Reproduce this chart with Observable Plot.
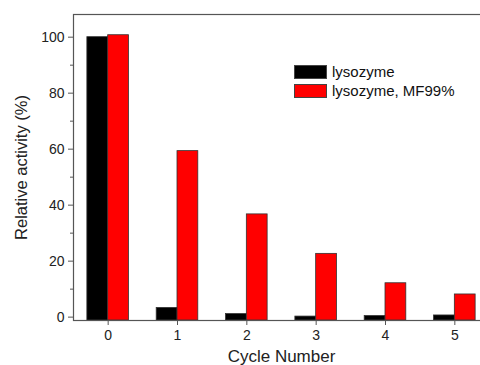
<!DOCTYPE html>
<html>
<head>
<meta charset="utf-8">
<script src="https://cdn.jsdelivr.net/npm/d3@7"></script>
<script src="https://cdn.jsdelivr.net/npm/@observablehq/plot@0.6"></script>
<style>
  html, body { margin: 0; padding: 0; background: #fff; overflow: hidden; }
  #wrap { position: relative; width: 480px; height: 365px; overflow: hidden; }
  #chart svg { max-width: none !important; display: block; }
  #legend { position: absolute; left: 294px; top: 62px; font-family: "Liberation Sans", Arial, sans-serif; font-size: 15px; color: #111; }
  .row { display: flex; align-items: center; height: 19px; }
  .sw { width: 31px; height: 12px; border: 1px solid #444; margin-right: 5px; }
</style>
</head>
<body>
<div id="wrap">
  <div id="chart"></div>
  <div id="legend"></div>
</div>
<script>
const cycles = [0, 1, 2, 3, 4, 5];
const seriesNames = ["lysozyme", "lysozyme, MF99%"];
const seriesColors = ["#000000", "#ff0000"];
const lysozyme = [100, 3.3, 1.1, 0.2, 0.4, 0.6];
const lysozymeMF99 = [100.7, 59.3, 36.7, 22.6, 12.1, 8.1];
const yTicks = [0, 20, 40, 60, 80, 100];
const yMinorTicks = [10, 30, 50, 70, 90];
const yDomain = [-1.2, 108.1];
const xDomain = [-0.5, 5.5];
const barWidth = 0.3;

const data = [];
cycles.forEach((c, i) => {
  data.push({cycle: c, series: seriesNames[0], value: lysozyme[i], x1: c - barWidth, x2: c});
  data.push({cycle: c, series: seriesNames[1], value: lysozymeMF99[i], x1: c, x2: c + barWidth});
});

const chart = Plot.plot({
  width: 489,
  height: 365,
  marginLeft: 73,
  marginRight: 0,
  marginTop: 14,
  marginBottom: 45,
  style: {fontFamily: "'Liberation Sans', Arial, sans-serif", fontSize: "14px", color: "#222", background: "white", overflow: "visible"},
  x: {domain: xDomain},
  y: {domain: yDomain},
  color: {domain: seriesNames, range: seriesColors},
  marks: [
    Plot.rectY(data, {x1: "x1", x2: "x2", y1: yDomain[0], y2: "value", fill: "series", stroke: "#333", strokeWidth: 0.8}),
    Plot.frame({stroke: "#555", strokeWidth: 1.2}),
    Plot.axisY({ticks: yTicks, tickSize: 5, tickPadding: 4, stroke: "#555", fontSize: 14, label: "Relative activity (%)", labelAnchor: "center", labelArrow: "none", labelOffset: 58}),
    Plot.axisY({ticks: yMinorTicks, tickSize: 3, text: null, stroke: "#555", label: null}),
    Plot.axisX({ticks: cycles, tickSize: 5, tickPadding: 5, stroke: "#555", fontSize: 14, tickFormat: d => String(d), label: "Cycle Number", labelAnchor: "center", labelArrow: "none", labelOffset: 41})
  ]
});
chart.querySelectorAll('[aria-label="y-axis label"] text').forEach(t => t.setAttribute("font-size", "16.5"));
chart.querySelectorAll('[aria-label="x-axis label"] text').forEach(t => t.setAttribute("font-size", "17"));
document.getElementById("chart").appendChild(chart);

const legend = document.getElementById("legend");
seriesNames.forEach((name, i) => {
  const row = document.createElement("div");
  row.className = "row";
  const sw = document.createElement("div");
  sw.className = "sw";
  sw.style.background = seriesColors[i];
  const label = document.createElement("span");
  label.textContent = name;
  row.appendChild(sw);
  row.appendChild(label);
  legend.appendChild(row);
});
</script>
</body>
</html>
